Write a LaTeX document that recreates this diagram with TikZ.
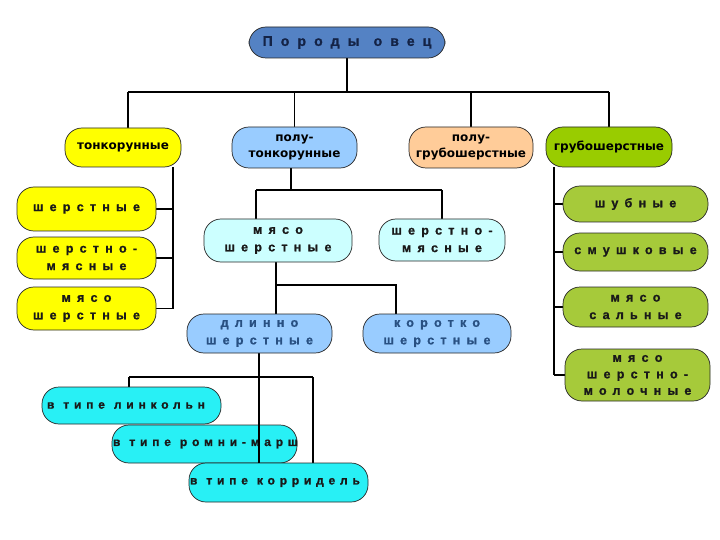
\documentclass[tikz,border=0pt]{standalone}
\usepackage{fontspec}
\setmainfont{Liberation Sans}
\newfontfamily\spc{Liberation Sans Bold}[LetterSpace=50, FakeBold=1.2]
\newfontfamily\spcc{Liberation Sans Bold}[LetterSpace=40, FakeBold=1.2]
\newfontfamily\spct{Liberation Sans Bold}[LetterSpace=58, FakeBold=1.2]
\newfontfamily\tah{DejaVu Sans}
\usetikzlibrary{backgrounds}
\definecolor{titlefill}{RGB}{84,130,196}
\definecolor{titletext}{RGB}{20,35,70}
\definecolor{yel}{RGB}{255,255,0}
\definecolor{ltblue}{RGB}{153,204,255}
\definecolor{peach}{RGB}{255,204,153}
\definecolor{olive}{RGB}{153,204,0}
\definecolor{palecyan}{RGB}{204,255,255}
\definecolor{cyanbox}{RGB}{40,240,245}
\definecolor{grn}{RGB}{166,202,58}
\definecolor{bluetext}{RGB}{40,80,130}
\newcommand{\wgap}{\hspace{2pt} }
\newcommand{\cgap}{\hspace*{9pt}}
\tikzset{
  box/.style={draw=black!85, line width=0.7pt, rounded corners=17pt, inner sep=0pt, align=center},
  lvlone/.style={box, font=\tah\bfseries\fontsize{12}{16}\selectfont},
  spaced/.style={box, font=\spc\fontsize{12.5}{17.5}\selectfont, text=black!90},
  cyanstyle/.style={box, fill=cyanbox, font=\spcc\fontsize{12}{16}\selectfont, text=black!90},
  conn/.style={line width=1.7pt, black}
}
\begin{document}
\begin{tikzpicture}[x=1pt,y=-1pt]
\useasboundingbox (0,0) rectangle (720,540);
% title
\node[box, fill=titlefill, text=titletext, minimum width=196pt, minimum height=31pt,
      font=\spct\fontsize{14}{16}\selectfont] (title) at (347,42.5) {Породы\wgap овец};
% level 1
\node[lvlone, fill=yel, minimum width=116pt, minimum height=39pt] (tonk) at (123,147.5) {тонкорунные};
\node[lvlone, fill=ltblue, minimum width=125pt, minimum height=41pt] (polut) at (294.5,147.5) {полу-\\тонкорунные};
\node[lvlone, fill=peach, minimum width=124pt, minimum height=41pt] (polug) at (471,147.5) {полу-\\грубошерстные};
\node[lvlone, fill=olive, minimum width=126pt, minimum height=40pt] (grub) at (609,147) {грубошерстные};
% left yellow
\node[spaced, fill=yel, minimum width=139pt, minimum height=44pt] (sh) at (86.5,209) {шерстные};
\node[spaced, fill=yel, minimum width=139pt, minimum height=42pt] (shm) at (86.5,258) {шерстно-\\мясные};
\node[spaced, fill=yel, minimum width=139pt, minimum height=43pt] (msh) at (86.5,308.5) {мясо\\шерстные};
% middle
\node[spaced, fill=palecyan, minimum width=148pt, minimum height=43pt] (msh2) at (278,240.5) {мясо\\шерстные};
\node[spaced, fill=palecyan, minimum width=126pt, minimum height=42pt] (shm2) at (442,240) {шерстно-\\мясные};
\node[spaced, fill=ltblue, text=bluetext, minimum width=145pt, minimum height=39pt] (dl) at (259.5,333.5) {длинно\\шерстные};
\node[spaced, fill=ltblue, text=bluetext, minimum width=148pt, minimum height=39pt] (kor) at (437,333.5) {коротко\\шерстные};
% cyan
\node[cyanstyle, minimum width=179pt, minimum height=37pt] (lin) at (131.5,405.5) {\makebox[169pt][l]{в\cgap типе\cgap линкольн}};
\node[cyanstyle, minimum width=185pt, minimum height=38pt] (rom) at (204.5,444) {\makebox[183pt][l]{в\cgap типе\cgap ромни-марш}};
\node[cyanstyle, minimum width=179pt, minimum height=39pt] (korr) at (278.5,482.5) {\makebox[177pt][l]{в\cgap типе\cgap корридель}};
% right green
\node[spaced, fill=grn, minimum width=145pt, minimum height=36pt] (shub) at (635.5,204) {шубные};
\node[spaced, fill=grn, minimum width=145pt, minimum height=38pt] (smu) at (635.5,252) {смушковые};
\node[spaced, fill=grn, minimum width=145pt, minimum height=40pt] (msal) at (635.5,307) {мясо\\сальные};
\node[spaced, fill=grn, minimum width=145pt, minimum height=52pt, font=\spc\fontsize{12.5}{16.5}\selectfont] (mshm) at (637.5,375) {мясо\\шерстно-\\молочные};
% junction coordinates
\coordinate (busL) at (128,92);
\coordinate (busR) at (609,92);
\coordinate (tkx) at (173,0);
\coordinate (j1) at (291,190);
\coordinate (j1L) at (256,190);
\coordinate (j1R) at (442,190);
\coordinate (j2) at (276,285);
\coordinate (j2R) at (396,285);
\coordinate (j3) at (259,377);
\coordinate (j3L) at (129,377);
\coordinate (j3R) at (313,377);
\coordinate (gx) at (554,0);
\begin{pgfonlayer}{background}
\draw[conn] (title.south) -- (title.south |- busL);
\draw[conn] (busL) -- (busR);
\draw[conn] (busL) -- (busL |- tonk.north);
\draw[conn] (polut.north |- busL) -- (polut.north);
\draw[conn] (polug.north |- busL) -- (polug.north);
\draw[conn] (busR) -- (grub.north);
% tonkorunnye branch
\draw[conn] (tonk.south -| tkx) -- (msh.east -| tkx);
\draw[conn] (sh.east) -- (sh.east -| tkx);
\draw[conn] (shm.east) -- (shm.east -| tkx);
\draw[conn] (msh.east) -- (msh.east -| tkx);
% polutonkorunnye branch
\draw[conn] (polut.south -| j1) -- (j1);
\draw[conn] (j1L) -- (j1R);
\draw[conn] (j1L) -- (j1L |- msh2.north);
\draw[conn] (j1R) -- (shm2.north);
\draw[conn] (msh2.south -| j2) -- (j2 |- dl.north);
\draw[conn] (j2) -- (j2R) -- (j2R |- kor.north);
\draw[conn] (dl.south -| j3) -- (j3);
\draw[conn] (j3L) -- (j3R);
\draw[conn] (j3L) -- (j3L |- lin.north);
\draw[conn] (j3R) -- (j3R |- korr.north);
% grubosherstnye branch
\draw[conn] (grub.south -| gx) -- (mshm.west -| gx);
\draw[conn] (shub.west) -- (shub.west -| gx);
\draw[conn] (smu.west) -- (smu.west -| gx);
\draw[conn] (msal.west) -- (msal.west -| gx);
\draw[conn] (mshm.west) -- (mshm.west -| gx);
\end{pgfonlayer}
\draw[line width=1.2pt, black] (j3) -- (j3 |- korr.north);
\end{tikzpicture}
\end{document}
